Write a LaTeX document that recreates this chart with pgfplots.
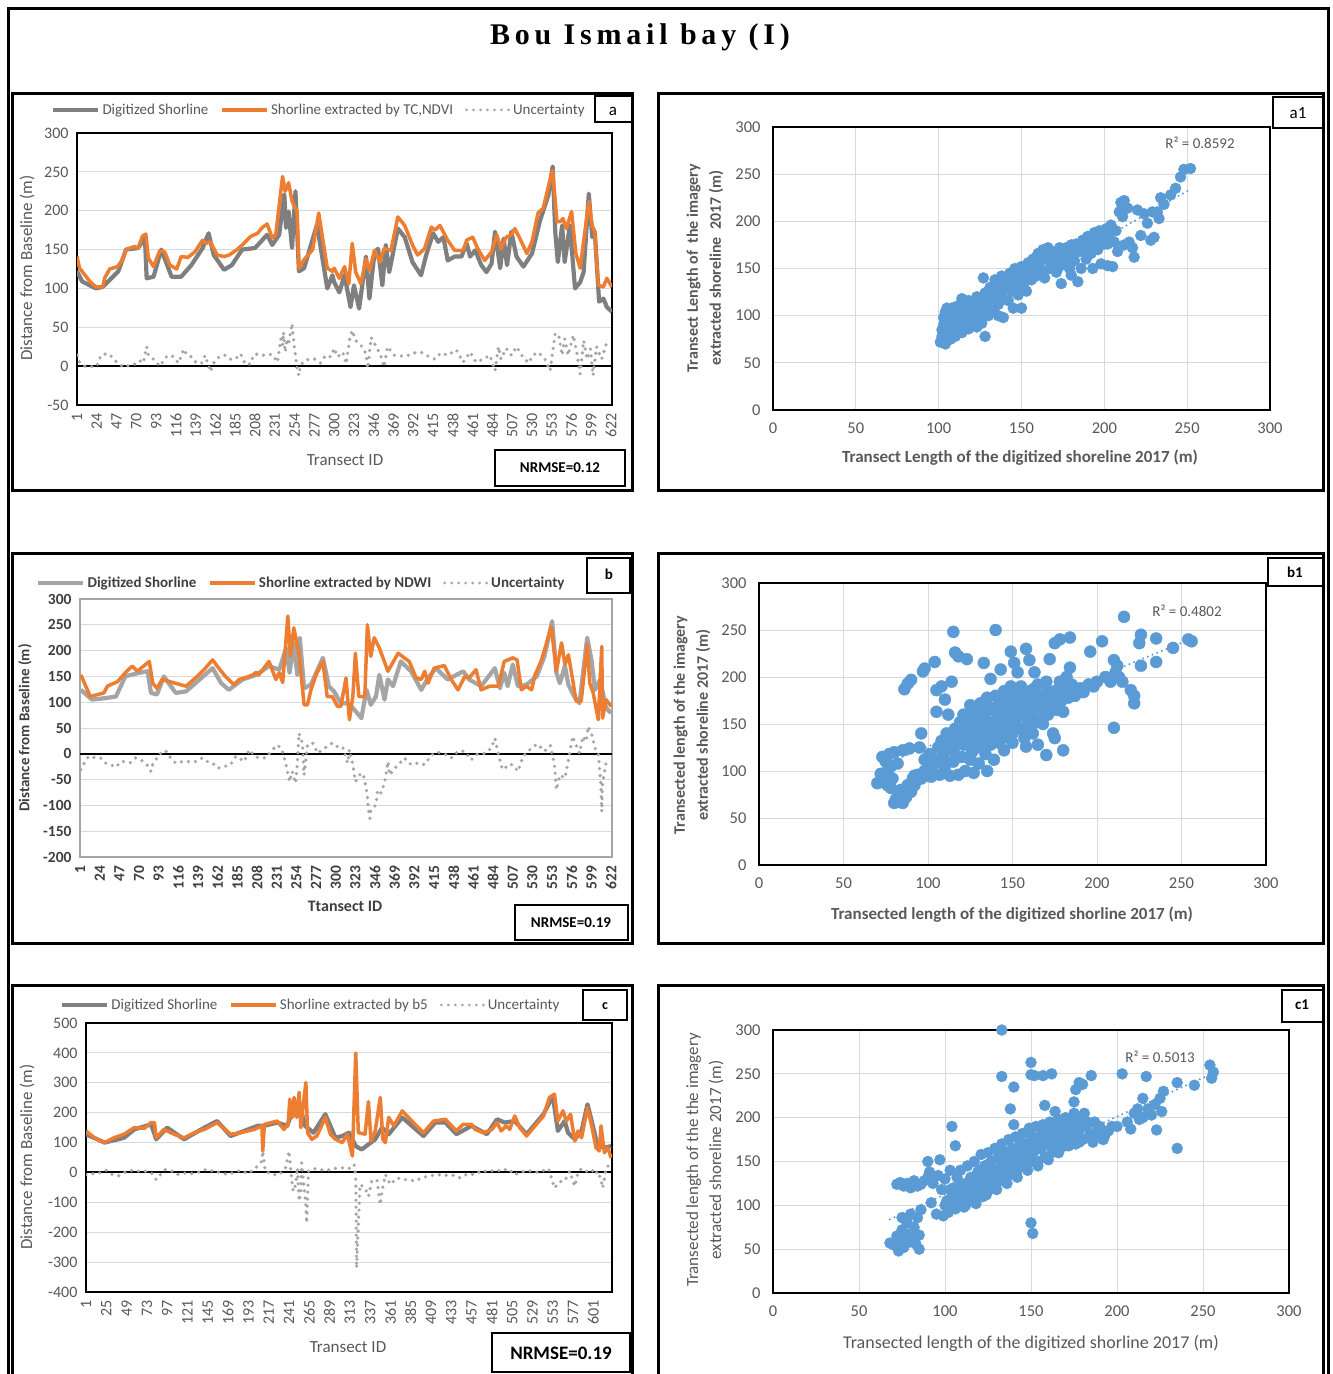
\documentclass[border=0pt]{standalone}
\usepackage{pgfplots}
\pgfplotsset{compat=1.18}
\usepackage{fontspec}
\setmainfont{Carlito}
\newfontfamily\titlefont[LetterSpace=16]{Liberation Serif}

\definecolor{orng}{HTML}{ED7D31}
\definecolor{gryA}{HTML}{7F7F7F}
\definecolor{gryB}{HTML}{A5A5A5}
\definecolor{unc}{HTML}{A6A6A6}
\definecolor{blu}{HTML}{5B9BD5}
\definecolor{grd}{HTML}{D9D9D9}
\definecolor{txt}{HTML}{595959}
\definecolor{txtb}{HTML}{404040}

\newcommand{\fs}[1]{\fontsize{#1}{#1}\selectfont}

\pgfplotsset{
  lineax/.style={scale only axis, xmin=1, xmax=623,
    axis line style={black, line width=1.5pt},
    ymajorgrids, grid style={grd, line width=1pt},
    major tick length=0pt,
    tick label style={font=\fs{16}, color=txt},
    xticklabel style={rotate=90, anchor=east, xshift=-5pt},
    yticklabel style={xshift=-5pt},
    /pgf/number format/assume math mode=true,
    legend columns=3, legend cell align=left,
    legend style={draw=none, fill=none, anchor=west, font=\fs{15}, text=txt,
      /tikz/every even column/.append style={column sep=10pt}},
    legend image code/.code={\draw[##1] (0pt,0pt) -- (45pt,0pt);}},
  scat/.style={scale only axis, xmin=0, xmax=300, ymin=0, ymax=300,
    xtick={0,50,...,300}, ytick={0,50,...,300},
    grid=major, grid style={grd, line width=1pt},
    axis line style={black, line width=1.5pt},
    major tick length=0pt, clip=false,
    tick label style={font=\fs{16.5}, color=txt},
    xticklabel style={yshift=-9pt}, yticklabel style={xshift=-9pt},
    /pgf/number format/assume math mode=true},
  gline/.style={line width=4.2pt, line join=round},
  oline/.style={orng, line width=3.5pt, line join=round},
  udots/.style={unc, line width=3.6pt, line cap=round, line join=round, dash pattern=on 0pt off 7pt,
    legend image code/.code={\draw[unc, line width=3pt, line cap=round, dash pattern=on 0pt off 7pt] (2pt,0pt) -- (45pt,0pt);}},
  bdots/.style={only marks, mark=*, mark size=5.5pt, mark options={draw=blu, fill=blu}},
  trend/.style={blu, line width=2.2pt, line cap=round, dash pattern=on 0pt off 5pt},
}

\begin{document}
\begin{tikzpicture}
\useasboundingbox (0pt,0pt) rectangle (1333pt,-1374pt);
\fill[white] (0pt,0pt) rectangle (1333pt,-1374pt);

% ---------- panel a ----------
\begin{axis}[lineax, at={(77pt,-405pt)}, anchor=south west, width=535pt, height=272pt,
  ymin=-50, ymax=300, ytick={-50,0,...,300}, xtick={1,24,...,622},
  legend style={at={(axis description cs:-0.054,1.085)}}]
\addplot[black, line width=2pt, forget plot] coordinates {(1,0) (623,0)};
\addplot[gline, gryA] coordinates {(1,122)(7,109)(23,100)(31,102)(39,111)(49,122)(58,150)(72,152)(80,165)(82,113)(90,115)(99,150)(111,115)(122,115)(134,130)(147,152)(154,171)(160,143)(172,124)(181,130)(193,150)(208,152)(222,169)(228,156)(236,169)(242,221)(244,178)(247,199)(251,152)(255,225)(259,122)(265,126)(280,182)(292,100)(298,117)(300,108)(306,95)(312,117)(319,76)(323,104)(329,74)(337,141)(341,87)(347,147)(351,151)(356,104)(360,156)(364,121)(374,177)(382,166)(391,134)(401,117)(407,143)(415,171)(421,160)(427,166)(432,136)(440,141)(448,141)(454,158)(458,141)(464,149)(471,130)(477,121)(483,132)(487,173)(493,126)(497,164)(501,130)(506,173)(512,141)(520,128)(530,145)(539,186)(549,220)(554,257)(557,173)(560,134)(565,181)(568,134)(574,181)(580,100)(586,108)(590,121)(596,222)(600,166)(603,173)(608,83)(613,87)(617,76)(623,70)};
\addlegendentry{Digitized Shorline}
\addplot[oline] coordinates {(1,141)(4,126)(16,109)(23,102)(31,102)(33,113)(39,125)(48,128)(54,137)(58,150)(68,154)(72,152)(77,167)(81,170)(84,139)(90,128)(97,148)(103,147)(109,130)(117,125)(122,141)(130,140)(138,147)(147,162)(151,158)(156,160)(164,143)(172,141)(178,143)(187,150)(195,158)(203,167)(211,171)(216,178)(222,183)(228,165)(232,169)(240,244)(243,225)(247,236)(251,212)(257,199)(259,126)(265,137)(275,150)(282,197)(292,126)(298,122)(300,126)(306,113)(312,128)(317,106)(321,158)(325,121)(331,106)(337,138)(341,123)(347,149)(353,134)(358,151)(366,149)(374,192)(382,181)(391,156)(397,143)(405,151)(413,179)(417,175)(423,181)(432,162)(440,149)(450,149)(454,162)(461,166)(467,151)(475,136)(483,147)(489,169)(494,151)(500,166)(506,169)(510,177)(516,164)(524,145)(530,160)(537,197)(543,203)(549,231)(554,252)(559,186)(563,186)(566,190)(570,177)(576,199)(581,145)(586,126)(596,212)(600,181)(603,173)(607,104)(613,102)(617,113)(623,102)};
\addlegendentry{Shorline extracted by TC,NDVI}
\addplot[udots] coordinates {(1,14)(4,5)(10,0)(14,0)(20,-1)(24,0)(29,14)(35,16)(39,15)(45,7)(49,4)(55,-1)(59,0)(64,2)(70,3)(74,7)(78,4)(82,25)(84,14)(92,7)(97,0)(105,12)(111,14)(115,9)(119,4)(125,22)(129,14)(134,12)(140,4)(146,4)(150,14)(156,-7)(160,4)(167,13)(173,14)(179,9)(185,9)(191,16)(197,2)(203,3)(206,14)(212,16)(218,14)(224,15)(228,15)(234,5)(238,35)(240,27)(241,44)(243,18)(245,35)(247,27)(249,42)(251,55)(253,31)(255,14)(257,-6)(259,-12)(261,1)(265,7)(271,9)(278,9)(284,4)(290,14)(296,12)(300,23)(304,12)(310,18)(314,3)(318,35)(321,46)(325,33)(331,27)(337,16)(339,-3)(343,37)(349,25)(354,14)(358,-1)(362,25)(370,14)(378,13)(386,14)(393,17)(401,18)(409,13)(417,9)(424,17)(432,14)(442,21)(450,5)(458,18)(465,5)(473,9)(481,14)(487,-6)(491,25)(494,9)(500,23)(506,14)(512,25)(518,14)(526,4)(531,14)(537,18)(545,9)(551,-6)(557,42)(561,40)(565,14)(568,35)(572,14)(578,40)(582,18)(586,-10)(590,33)(594,9)(598,22)(601,-12)(605,25)(611,9)(617,31)(621,30)};
\addlegendentry{Uncertainty}
\end{axis}

% ---------- panel b ----------
\begin{axis}[lineax, at={(80pt,-857pt)}, anchor=south west, width=532pt, height=258pt,
  ymin=-200, ymax=300, ytick={-200,-150,...,300}, xtick={1,24,...,622},
  axis line style={gryB, line width=1.5pt},
  tick label style={font=\bfseries\fs{15.5}, color=txtb},
  legend style={at={(axis description cs:-0.088,1.062)}, font=\bfseries\fs{15}, text=txtb}]
\addplot[black, line width=2pt, forget plot] coordinates {(1,0) (623,0)};
\addplot[gline, gryB] coordinates {(2,124)(15,105)(31,108)(43,111)(54,150)(70,157)(80,160)(84,118)(91,115)(99,150)(113,118)(125,121)(136,137)(156,166)(166,137)(175,124)(191,144)(207,153)(222,170)(234,163)(242,205)(246,157)(251,215)(255,153)(258,225)(263,127)(271,134)(285,186)(292,131)(298,121)(306,98)(314,98)(322,85)(330,69)(336,124)(341,95)(347,111)(351,153)(357,105)(361,144)(367,131)(376,179)(388,160)(400,124)(408,147)(417,166)(431,144)(449,160)(456,144)(470,131)(486,166)(492,127)(497,157)(501,131)(507,173)(513,131)(523,134)(535,150)(544,189)(553,257)(558,157)(562,137)(568,170)(572,134)(579,111)(585,98)(594,225)(599,182)(603,124)(609,144)(616,89)(622,79)};
\addlegendentry{Digitized Shorline}
\addplot[oline] coordinates {(2,153)(13,111)(29,118)(33,131)(45,140)(54,157)(62,170)(68,160)(82,179)(86,137)(91,127)(97,144)(125,131)(138,150)(146,163)(156,182)(166,160)(171,150)(181,134)(187,144)(197,149)(203,153)(207,158)(210,153)(222,179)(230,144)(234,157)(238,138)(244,267)(247,189)(251,244)(257,195)(263,95)(267,95)(271,124)(277,153)(285,179)(290,111)(296,111)(302,92)(306,92)(312,147)(316,66)(320,111)(323,195)(327,111)(334,111)(337,250)(341,189)(345,225)(351,205)(361,160)(373,195)(380,186)(386,179)(394,147)(400,144)(404,160)(408,137)(415,166)(427,171)(435,144)(443,124)(451,150)(456,147)(464,163)(470,124)(480,131)(490,131)(497,179)(507,186)(512,182)(517,124)(523,131)(529,124)(533,153)(540,179)(546,212)(552,247)(558,160)(564,215)(568,173)(572,192)(577,144)(581,102)(587,102)(594,212)(597,137)(601,118)(607,66)(611,208)(612,69)(616,105)(622,92)};
\addlegendentry{Shorline extracted by NDWI}
\addplot[udots] coordinates {(2,-31)(6,-18)(11,-5)(17,-7)(25,-8)(31,-18)(37,-21)(43,-26)(49,-15)(54,-15)(60,-17)(66,-8)(72,-12)(78,-18)(84,-34)(86,-21)(91,-8)(97,5)(101,6)(107,-8)(113,-18)(121,-15)(129,-15)(136,-15)(144,-8)(150,-15)(156,-18)(162,-28)(169,-25)(177,-21)(183,-5)(187,-8)(193,-15)(199,8)(205,-4)(210,-8)(218,-8)(226,8)(232,17)(237,9)(242,-21)(244,-38)(246,-54)(249,-34)(253,-57)(255,-21)(257,40)(261,21)(263,-41)(267,17)(273,21)(279,1)(285,9)(290,14)(296,21)(302,14)(308,14)(312,-8)(314,-18)(316,8)(320,-21)(323,-54)(328,-41)(332,-38)(336,-70)(337,-83)(338,-105)(340,-125)(341,-109)(347,-99)(349,-70)(353,-76)(357,-57)(361,-15)(363,-41)(369,-28)(375,-18)(380,-8)(388,-21)(396,-18)(404,-21)(412,-2)(419,3)(427,0)(435,-8)(443,5)(451,5)(458,-12)(466,0)(474,1)(482,11)(486,30)(490,1)(494,-25)(497,-31)(501,-21)(507,-21)(513,-34)(519,-5)(525,5)(531,14)(536,19)(544,5)(551,16)(556,-25)(558,-70)(562,-41)(568,-47)(572,-12)(577,34)(581,17)(585,1)(589,34)(593,24)(595,53)(599,40)(603,11)(607,1)(610,-60)(611,-112)(612,-57)(616,-18)(620,-25)};
\addlegendentry{Uncertainty}
\end{axis}

% ---------- panel c ----------
\begin{axis}[lineax, at={(86pt,-1292pt)}, anchor=south west, width=526pt, height=269pt,
  ymin=-400, ymax=500, ytick={-400,-300,...,500}, xtick={1,25,...,601},
  legend style={at={(axis description cs:-0.055,1.067)}}]
\addplot[black, line width=2pt, forget plot] coordinates {(1,0) (623,0)};
\addplot[gline, gryA] coordinates {(1,128)(23,100)(46,116)(58,144)(78,161)(84,111)(97,150)(117,111)(141,150)(156,172)(172,122)(188,139)(204,156)(212,156)(227,167)(239,156)(245,206)(251,189)(255,212)(260,156)(270,133)(284,195)(296,116)(304,122)(312,133)(320,88)(327,77)(335,94)(343,111)(351,150)(359,128)(375,184)(400,122)(414,167)(426,167)(439,128)(457,156)(475,128)(487,178)(496,167)(508,172)(522,128)(542,195)(553,256)(559,139)(567,172)(571,133)(579,111)(587,139)(594,228)(599,172)(606,88)(614,83)(622,88)};
\addlegendentry{Digitized Shorline}
\addplot[oline] coordinates {(1,139)(11,116)(23,100)(34,116)(46,128)(58,150)(70,148)(78,167)(82,167)(84,116)(93,144)(105,128)(117,116)(129,133)(141,144)(156,167)(172,128)(184,133)(200,144)(209,156)(210,72)(212,161)(227,172)(235,144)(240,161)(242,245)(245,184)(247,251)(250,184)(253,268)(255,150)(258,228)(261,301)(263,133)(268,111)(274,122)(284,184)(290,128)(296,111)(304,100)(310,128)(316,55)(320,399)(323,133)(331,128)(335,237)(338,105)(343,139)(349,251)(352,111)(355,100)(359,184)(365,156)(375,206)(388,167)(400,133)(412,172)(426,178)(439,139)(447,161)(457,161)(461,144)(471,133)(481,144)(487,167)(492,139)(498,156)(502,144)(508,189)(514,150)(522,122)(532,156)(542,189)(549,251)(555,262)(559,172)(565,206)(569,172)(574,195)(579,105)(583,139)(587,116)(594,217)(599,156)(604,83)(608,72)(610,156)(614,66)(618,83)(622,49)};
\addlegendentry{Shorline extracted by b5}
\addplot[udots] coordinates {(1,-7)(7,-4)(15,-4)(25,7)(33,-9)(40,-11)(48,2)(56,7)(64,4)(72,4)(78,0)(84,-24)(90,-4)(95,10)(103,4)(109,-7)(117,-2)(125,-4)(133,0)(141,9)(147,10)(152,2)(160,0)(168,-7)(176,0)(184,7)(192,-4)(201,13)(209,38)(210,72)(213,4)(221,-7)(229,-9)(237,16)(241,72)(242,44)(244,-18)(246,-63)(249,-40)(251,16)(253,-96)(255,-68)(256,32)(258,-24)(260,-80)(261,-113)(262,-169)(264,4)(270,13)(278,9)(286,7)(294,13)(302,16)(312,13)(318,27)(320,-12)(321,-320)(325,-40)(331,-52)(335,-80)(339,-29)(345,-24)(349,-108)(351,-63)(355,-7)(361,-40)(369,-18)(375,-24)(382,-24)(390,-29)(398,-18)(406,-12)(414,-9)(422,-7)(430,-11)(437,-9)(443,-18)(453,-4)(461,-7)(469,7)(477,2)(485,9)(492,4)(500,13)(508,-7)(516,2)(524,7)(532,0)(540,4)(548,13)(555,-52)(561,-31)(567,-29)(573,4)(579,-46)(583,2)(587,13)(593,4)(599,10)(603,-7)(606,4)(610,-24)(612,-52)(616,13)(620,27)};
\addlegendentry{Uncertainty}
\end{axis}

% ---------- panel a1 ----------
\begin{axis}[scat, at={(773pt,-410pt)}, anchor=south west, width=497pt, height=283pt]
\addplot[bdots] coordinates {(101,72)(102,78)(102,85)(103,90)(103,98)(104,104)(104,70)(105,80)(106,88)(106,95)(107,75)(107,102)(108,84)(108,108)(109,92)(110,78)(110,100)(111,110)(112,88)(112,96)(113,104)(114,82)(115,92)(116,110)(117,100)(118,86)(118,116)(119,106)(120,94)(121,112)(122,100)(123,88)(123,120)(124,108)(125,96)(126,116)(127,104)(127,140)(128,78)(128,124)(129,112)(130,100)(131,130)(132,118)(133,106)(134,138)(135,124)(136,112)(137,132)(138,142)(138,120)(139,98)(140,128)(141,138)(142,116)(143,145)(144,126)(145,108)(145,134)(146,150)(147,140)(148,122)(149,130)(150,108)(150,152)(151,144)(152,136)(153,126)(154,156)(155,146)(156,138)(157,160)(158,150)(159,142)(160,166)(161,156)(162,148)(163,170)(164,140)(165,160)(166,172)(167,150)(168,164)(169,156)(170,168)(171,146)(172,160)(173,172)(174,134)(175,164)(176,154)(177,172)(178,160)(179,150)(180,143)(180,175)(181,166)(182,158)(183,176)(184,136)(185,168)(186,150)(187,180)(188,170)(189,160)(190,184)(191,176)(192,166)(193,150)(194,188)(195,180)(196,170)(197,190)(198,155)(199,184)(200,176)(201,192)(202,153)(203,186)(204,196)(205,152)(206,178)(207,190)(208,168)(209,210)(210,220)(211,205)(212,222)(212,175)(214,214)(215,178)(217,172)(218,162)(220,212)(222,185)(224,208)(226,198)(228,180)(229,210)(230,183)(232,210)(233,203)(234,225)(236,218)(240,228)(243,235)(246,247)(248,255)(252,256)(105,108)(110,88)(114,118)(120,104)(126,92)(132,126)(136,100)(142,130)(148,146)(154,140)(160,152)(166,160)(172,150)(178,170)(184,172)(190,168)(196,180)(202,176)};
\addplot[trend] coordinates {(103,86) (252,234)};
\end{axis}

% ---------- panel b1 ----------
\begin{axis}[scat, at={(759pt,-865pt)}, anchor=south west, width=507pt, height=282pt]
\addplot[bdots, mark size=6pt] coordinates {(70,87)(72,97)(73,115)(75,110)(76,100)(77,118)(78,105)(78,82)(79,92)(80,120)(80,66)(81,70)(82,108)(83,75)(84,80)(85,66)(85,122)(86,187)(87,72)(88,193)(88,85)(89,124)(90,78)(90,197)(91,92)(92,95)(94,96)(96,140)(97,206)(98,209)(98,112)(100,95)(100,105)(101,118)(102,94)(104,216)(104,108)(105,186)(105,163)(106,125)(107,96)(108,190)(108,132)(109,115)(110,176)(110,98)(111,140)(112,160)(112,124)(113,95)(114,195)(114,135)(115,248)(115,110)(116,226)(116,145)(117,128)(118,222)(118,96)(119,152)(120,138)(120,115)(121,160)(122,100)(123,219)(123,145)(124,130)(125,170)(125,112)(126,155)(127,98)(128,140)(128,165)(129,125)(130,150)(130,108)(131,172)(132,135)(133,160)(133,215)(134,118)(134,145)(135,178)(135,100)(136,152)(137,128)(137,198)(138,165)(139,140)(139,112)(140,250)(140,180)(141,155)(142,130)(143,170)(143,208)(144,145)(145,185)(145,122)(146,160)(147,138)(148,175)(148,150)(149,227)(149,190)(150,165)(150,140)(151,215)(152,180)(152,155)(153,205)(154,170)(154,145)(155,190)(156,160)(157,135)(158,230)(158,175)(158,126)(159,150)(160,218)(160,185)(161,165)(162,140)(163,205)(163,178)(164,155)(165,128)(165,192)(166,168)(168,180)(168,150)(170,117)(170,195)(171,160)(172,219)(172,175)(174,140)(175,236)(175,185)(175,135)(176,165)(178,240)(178,195)(179,175)(180,122)(180,163)(181,188)(183,178)(184,242)(184,210)(185,192)(187,180)(190,188)(192,184)(195,192)(196,227)(198,190)(200,195)(203,238)(205,200)(208,195)(210,218)(210,146)(211,205)(212,212)(213,200)(215,195)(216,264)(220,186)(222,180)(222,172)(225,236)(226,245)(226,212)(235,241)(235,216)(245,231)(254,240)(256,238)(121,128)(123,138)(125,150)(127,160)(129,135)(131,145)(133,155)(135,165)(137,140)(139,150)(141,162)(143,175)(145,150)(147,160)(149,172)(151,185)(153,160)(155,170)(157,180)(159,162)(161,175)(163,188)(165,168)(167,178)(169,160)(171,185)(126,120)(132,125)(138,132)(144,135)(150,130)(156,145)(162,150)(168,168)(174,170)(177,180)(180,178)(182,200)(186,188)(118,130)(115,122)(112,110)(110,105)(105,112)(102,100)(96,92)(98,100)(92,85)(75,95)(76,85)(95,125)(100,115)(128,150)(134,175)(140,168)(146,180)(152,170)(158,165)(164,180)(170,175)};
\addplot[trend] coordinates {(85,115) (255,240)};
\end{axis}

% ---------- panel c1 ----------
\begin{axis}[scat, at={(773pt,-1293pt)}, anchor=south west, width=516pt, height=263pt]
\addplot[bdots] coordinates {(68,57)(70,55)(72,65)(73,48)(74,60)(75,72)(75,86)(76,52)(77,68)(78,80)(79,58)(80,90)(81,64)(82,75)(83,56)(84,86)(85,50)(85,66)(86,95)(72,124)(74,126)(76,122)(78,125)(80,120)(82,128)(84,122)(86,124)(88,128)(90,132)(90,150)(91,138)(92,103)(93,125)(95,90)(96,134)(97,152)(98,118)(99,88)(100,130)(100,100)(102,92)(103,140)(104,190)(104,110)(105,120)(106,168)(106,96)(107,132)(108,105)(109,140)(110,115)(111,98)(112,125)(113,145)(114,108)(115,132)(116,118)(117,150)(118,102)(119,138)(120,125)(121,158)(122,110)(123,145)(124,130)(125,160)(126,118)(127,150)(128,138)(129,165)(130,125)(131,155)(132,140)(133,300)(133,247)(133,170)(134,130)(135,160)(136,145)(137,175)(138,210)(138,135)(139,165)(140,235)(140,192)(140,150)(141,178)(142,140)(143,168)(144,155)(145,182)(146,145)(147,170)(148,160)(149,188)(150,263)(150,249)(150,80)(150,150)(151,68)(151,175)(152,248)(152,162)(153,190)(154,150)(155,178)(156,165)(157,248)(157,192)(158,214)(158,155)(159,180)(160,170)(161,195)(162,250)(162,160)(163,185)(164,207)(165,175)(166,198)(167,165)(168,188)(169,178)(170,200)(171,168)(172,190)(173,180)(175,218)(175,205)(176,232)(176,170)(177,195)(178,240)(178,185)(179,200)(180,238)(180,175)(182,190)(184,180)(185,248)(186,172)(188,185)(190,190)(192,175)(195,185)(197,190)(200,190)(203,250)(206,195)(208,187)(210,205)(212,210)(213,198)(215,200)(215,222)(217,247)(218,210)(220,203)(222,215)(223,186)(225,222)(226,207)(227,230)(235,240)(235,165)(245,237)(254,260)(256,252)(255,245)(101,105)(103,118)(105,100)(107,112)(109,125)(111,108)(113,120)(115,112)(117,126)(119,115)(121,130)(123,120)(125,138)(127,128)(129,140)(131,132)(133,148)(135,138)(137,152)(139,145)(141,160)(143,150)(145,165)(147,155)(149,170)(151,160)(153,172)(155,165)(157,180)(159,170)(161,185)(163,175)(165,190)(167,180)(169,195)(171,185)(173,198)(175,190)(177,200)(179,192)(181,205)(183,195)(112,100)(118,108)(124,112)(130,118)(136,125)(142,132)(148,140)(154,145)(160,152)(166,160)(172,168)(178,172)(120,140)(126,148)(132,158)(138,160)(144,172)(150,180)(156,188)(162,170)(168,172)(174,178)(187,195)(189,182)(193,180)};
\addplot[trend] coordinates {(68,84) (255,250)};
\end{axis}

% ---------- frames, titles and labels ----------
\draw[line width=3pt] (8pt,-1380pt) -- (8pt,-8pt) -- (1328pt,-8pt) -- (1328pt,-1380pt);
\node[font=\titlefont\bfseries\fs{30}] at (640pt,-37pt) {Bou Ismail bay (I)};

\draw[line width=3pt] (12pt,-93pt) rectangle (632pt,-490pt);
\draw[line width=3pt] (658pt,-93pt) rectangle (1323pt,-490pt);
\draw[line width=3pt] (12pt,-553pt) rectangle (632pt,-943pt);
\draw[line width=3pt] (658pt,-553pt) rectangle (1323pt,-943pt);
\draw[line width=3pt] (12pt,-1380pt) -- (12pt,-985pt) -- (632pt,-985pt) -- (632pt,-1380pt);
\draw[line width=3pt] (658pt,-1380pt) -- (658pt,-985pt) -- (1323pt,-985pt) -- (1323pt,-1380pt);

% panel tags
\draw[line width=2pt] (595pt,-96pt) rectangle (632pt,-122pt);
\node[font=\fs{17}] at (613pt,-111pt) {a};
\draw[line width=2pt] (1273pt,-97pt) rectangle (1323pt,-128pt);
\node[font=\fs{17}] at (1298pt,-113pt) {a1};
\draw[line width=2pt] (587pt,-558pt) rectangle (630pt,-593pt);
\node[font=\bfseries\fs{15}] at (609pt,-574pt) {b};
\draw[line width=2pt] (1268pt,-558pt) rectangle (1323pt,-586pt);
\node[font=\bfseries\fs{15}] at (1295pt,-572pt) {b1};
\draw[line width=2pt] (583pt,-990pt) rectangle (627pt,-1020pt);
\node[font=\bfseries\fs{14}] at (605pt,-1006pt) {c};
\draw[line width=2pt] (1282pt,-990pt) rectangle (1323pt,-1022pt);
\node[font=\bfseries\fs{15}] at (1302pt,-1005pt) {c1};

% NRMSE boxes
\draw[line width=2pt] (495pt,-450pt) rectangle (625pt,-486pt);
\node[font=\bfseries\fs{15}] at (560pt,-468pt) {NRMSE=0.12};
\draw[line width=2pt] (515pt,-905pt) rectangle (628pt,-940pt);
\node[font=\bfseries\fs{15}] at (571pt,-923pt) {NRMSE=0.19};
\draw[line width=2pt] (492pt,-1333pt) rectangle (630pt,-1372pt);
\node[font=\bfseries\fs{19}] at (561pt,-1353pt) {NRMSE=0.19};

% axis titles, line charts
\node[rotate=90, font=\fs{17}, text=txt] at (27pt,-268pt) {Distance from Baseline (m)};
\node[font=\fs{17}, text=txt] at (345pt,-460pt) {Transect ID};
\node[rotate=90, font=\bfseries\fs{15}, text=txtb] at (25pt,-728pt) {Distance from Baseline (m)};
\node[font=\bfseries\fs{16}, text=txtb] at (345pt,-906pt) {Ttansect ID};
\node[rotate=90, font=\fs{17}, text=txt] at (27pt,-1157pt) {Distance from Baseline (m)};
\node[font=\fs{17}, text=txt] at (348pt,-1347pt) {Transect ID};

% axis titles, scatter charts
\node[rotate=90, align=center, font=\bfseries\fontsize{16}{23}\selectfont, text=txt] at (705pt,-268pt) {Transect Length of\ \ the imagery\\extracted shoreline\ \ 2017 (m)};
\node[font=\bfseries\fs{17}, text=txt] at (1020pt,-458pt) {Transect Length of the digitized shoreline 2017 (m)};
\node[font=\fs{15}, text=txt] at (1200pt,-143pt) {R² = 0.8592};

\node[rotate=90, align=center, font=\bfseries\fontsize{16}{23}\selectfont, text=txt] at (692pt,-725pt) {Transected length of the imagery\\extracted shoreline 2017 (m)};
\node[font=\bfseries\fs{17}, text=txt] at (1012pt,-915pt) {Transected length of the digitized shorline 2017 (m)};
\node[font=\fs{15}, text=txt] at (1187pt,-611pt) {R² = 0.4802};

\node[rotate=90, align=center, font=\fontsize{17}{23}\selectfont, text=txt] at (705pt,-1160pt) {Transected length of the the imagery\\extracted shoreline 2017 (m)};
\node[font=\fs{18}, text=txt] at (1031pt,-1343pt) {Transected length of the digitized shorline 2017 (m)};
\node[font=\fs{15}, text=txt] at (1160pt,-1057pt) {R² = 0.5013};
\end{tikzpicture}
\end{document}
